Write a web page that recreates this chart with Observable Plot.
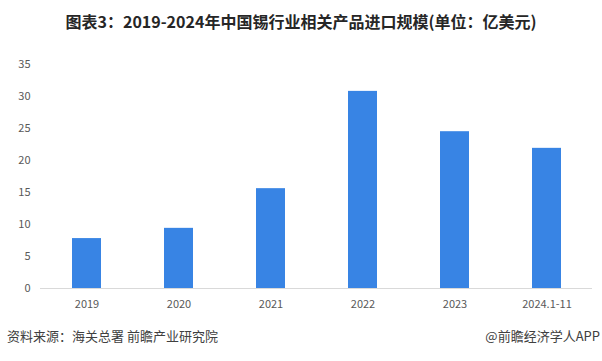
<!DOCTYPE html>
<html><head><meta charset="utf-8">
<script src="https://cdn.jsdelivr.net/npm/d3@7"></script>
<script src="https://cdn.jsdelivr.net/npm/@observablehq/plot@0.6"></script>
<style>
body{margin:0;background:#fff;font-family:"Noto Sans CJK SC","Noto Sans",sans-serif;}
#wrap{position:relative;width:602px;height:361px;overflow:hidden;}
#title{position:absolute;top:10px;left:0;width:602px;text-align:center;font-size:16px;font-weight:bold;color:#262626;line-height:22px;}
#chart{position:absolute;top:40px;left:0;}
#src{position:absolute;top:326px;left:7px;font-size:13px;color:#404040;line-height:20px;}
#app{position:absolute;top:326px;right:2px;font-size:13px;color:#404040;line-height:20px;}
</style></head>
<body>
<div id="wrap">
<div id="title">图表3：2019-2024年中国锡行业相关产品进口规模(单位：亿美元)</div>
<div id="chart"></div>
<div id="src">资料来源：海关总署 前瞻产业研究院</div>
<div id="app">@前瞻经济学人APP</div>
</div>
<script>
const categories = ["2019","2020","2021","2022","2023","2024.1-11"];
const values = [7.8, 9.4, 15.6, 30.8, 24.5, 21.9];
const yTicks = [0,5,10,15,20,25,30,35];
const data = categories.map((c,i)=>({cat:c, value:values[i]}));
const plot = Plot.plot({
  width: 602, height: 278,
  marginLeft: 40, marginRight: 10, marginTop: 24, marginBottom: 30,
  style: {fontFamily: '"Noto Sans CJK SC","Noto Sans",sans-serif', fontSize: "11px", color: "#595959", background: "#fff"},
  x: {domain: categories, label: null, paddingInner: 0.685, paddingOuter: 0.34, tickSize: 0, tickPadding: 12},
  y: {domain: [0,35], ticks: yTicks, label: null, tickSize: 0, tickPadding: 10},
  marks: [
    Plot.barY(data, {x: "cat", y: "value", fill: "#3884e4"}),
    Plot.ruleY([0], {stroke: "#d9d9d9", strokeWidth: 1})
  ]
});
document.getElementById("chart").appendChild(plot);
</script>
</body></html>
